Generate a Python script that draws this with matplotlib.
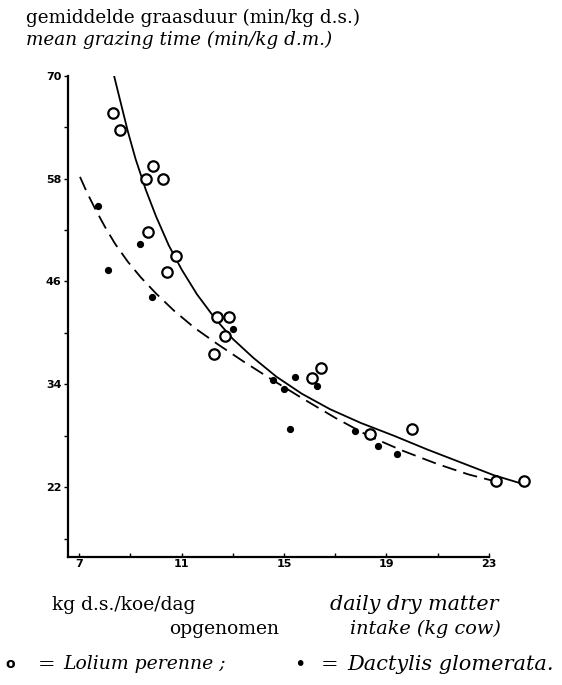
import matplotlib
matplotlib.use("Agg")
import matplotlib.pyplot as plt

# ── data ─────────────────────────────────────────────────────────────────────
lolium_x = [8.32, 8.58, 9.88, 9.59, 10.29, 9.69, 10.77, 10.43, 12.37, 12.85,
            12.70, 12.27, 16.44, 16.11, 18.34, 20.00, 23.30, 24.37]
lolium_y = [65.6, 63.7, 59.5, 58.0, 57.9, 51.8, 49.0, 47.1, 41.9, 41.8,
            39.6, 37.5, 35.9, 34.7, 28.2, 28.8, 22.7, 22.7]

dactylis_x = [7.74, 8.11, 9.36, 9.84, 12.99, 14.57, 15.00, 15.44, 16.30,
              15.25, 17.77, 18.66, 19.43]
dactylis_y = [54.8, 47.3, 50.4, 44.2, 40.5, 34.5, 33.5, 34.9, 33.8,
              28.8, 28.6, 26.8, 25.9]

# fitted curves
lolium_fit_x = [8.36, 8.6, 8.9, 9.2, 9.6, 10.0, 10.5, 11.0, 11.6, 12.3,
                13.0, 13.8, 14.7, 15.7, 16.8, 18.0, 19.3, 20.6, 21.9, 23.2,
                24.2]
lolium_fit_y = [70.0, 67.1, 63.5, 60.3, 56.7, 53.6, 50.2, 47.4, 44.5, 41.7,
                39.3, 37.1, 34.9, 32.9, 31.1, 29.5, 28.0, 26.4, 24.9, 23.4,
                22.5]

dactylis_fit_x = [7.03, 7.3, 7.6, 8.0, 8.4, 8.9, 9.4, 10.0, 10.7, 11.5,
                  12.4, 13.4, 14.5, 15.7, 17.0, 18.3, 19.6, 21.0, 22.2, 23.1]
dactylis_fit_y = [58.2, 56.4, 54.6, 52.4, 50.4, 48.3, 46.5, 44.6, 42.6, 40.6,
                  38.7, 36.7, 34.6, 32.4, 30.1, 28.0, 26.3, 24.7, 23.5, 22.8]

x_major = [7, 11, 15, 19, 23]
x_minor = [9, 13, 17, 21]
y_major = [22, 34, 46, 58, 70]
y_minor = [16, 28, 40, 52, 64]

W, H = 562, 685
SERIF = "DejaVu Serif"


def fx(px):
    return px / W


def fy(py):
    return 1 - py / H


fig = plt.figure(figsize=(W / 100, H / 100), dpi=100, facecolor="white")
ax = fig.add_axes([fx(67.7), fy(556.7), fx(540) - fx(67.7), fy(75.7) - fy(556.7)])

# ── curves and points ────────────────────────────────────────────────────────
ax.plot(lolium_fit_x, lolium_fit_y, color="black", lw=1.3, zorder=2,
        solid_joinstyle="round")
ax.plot(dactylis_fit_x, dactylis_fit_y, color="black", lw=1.3,
        dashes=(8, 4), zorder=2)
ax.plot(lolium_x, lolium_y, "o", ms=7.5, mfc="white", mec="black", mew=1.6,
        zorder=3, clip_on=False)
ax.plot(dactylis_x, dactylis_y, "o", ms=4.2, color="black", zorder=4,
        clip_on=False)

# ── axes ─────────────────────────────────────────────────────────────────────
ax.set_xlim(6.55, 25.0)
ax.set_ylim(13.9, 70)
for s in ("top", "right"):
    ax.spines[s].set_visible(False)
ax.spines["left"].set_linewidth(1.6)
ax.spines["bottom"].set_linewidth(1.6)
ax.spines["bottom"].set_bounds(6.55, 23)

ax.set_xticks(x_major)
ax.set_xticks(x_minor, minor=True)
ax.set_yticks(y_major)
ax.set_yticks(y_minor, minor=True)
ax.set_xticklabels([str(v) for v in x_major])
ax.set_yticklabels([str(v) for v in y_major])
ax.tick_params(axis="x", which="both", direction="in", length=3, width=1,
               pad=2, labelsize=8)
ax.tick_params(axis="y", which="both", direction="out", length=3, width=1,
               pad=1.5, labelsize=8)
for lab in ax.get_xticklabels() + ax.get_yticklabels():
    lab.set_fontweight("bold")

# ── texts ────────────────────────────────────────────────────────────────────
fig.text(fx(26), fy(18), "gemiddelde graasduur (min/kg d.s.)", family=SERIF,
         fontsize=13.2, va="center", ha="left")
fig.text(fx(26), fy(40), "mean grazing time (min/kg d.m.)", family=SERIF,
         fontsize=13.2, style="italic", va="center", ha="left")

fig.text(fx(52), fy(605), "kg d.s./koe/dag", family=SERIF, fontsize=13.5,
         va="center", ha="left")
fig.text(fx(279), fy(629), "opgenomen", family=SERIF, fontsize=13.5,
         va="center", ha="right")
fig.text(fx(330), fy(605), "daily dry matter", family=SERIF, fontsize=14.9,
         style="italic", va="center", ha="left")
fig.text(fx(350), fy(629), "intake (kg cow)", family=SERIF, fontsize=13.9,
         style="italic", va="center", ha="left")

fig.text(fx(10), fy(664), "o", family="DejaVu Sans", fontsize=10,
         va="center", ha="center", fontweight="bold")
fig.text(fx(47), fy(664), "=", family=SERIF, fontsize=15, va="center",
         ha="center")
fig.text(fx(63), fy(664), "Lolium perenne ;", family=SERIF, fontsize=13.5,
         style="italic", va="center", ha="left")
fig.text(fx(300), fy(664), "•", family="DejaVu Sans", fontsize=14,
         va="center", ha="center")
fig.text(fx(330), fy(664), "=", family=SERIF, fontsize=15, va="center",
         ha="center")
fig.text(fx(347), fy(664), "Dactylis glomerata.", family=SERIF,
         fontsize=15, style="italic", va="center", ha="left")

fig.savefig("out.png", dpi=100, facecolor="white")
